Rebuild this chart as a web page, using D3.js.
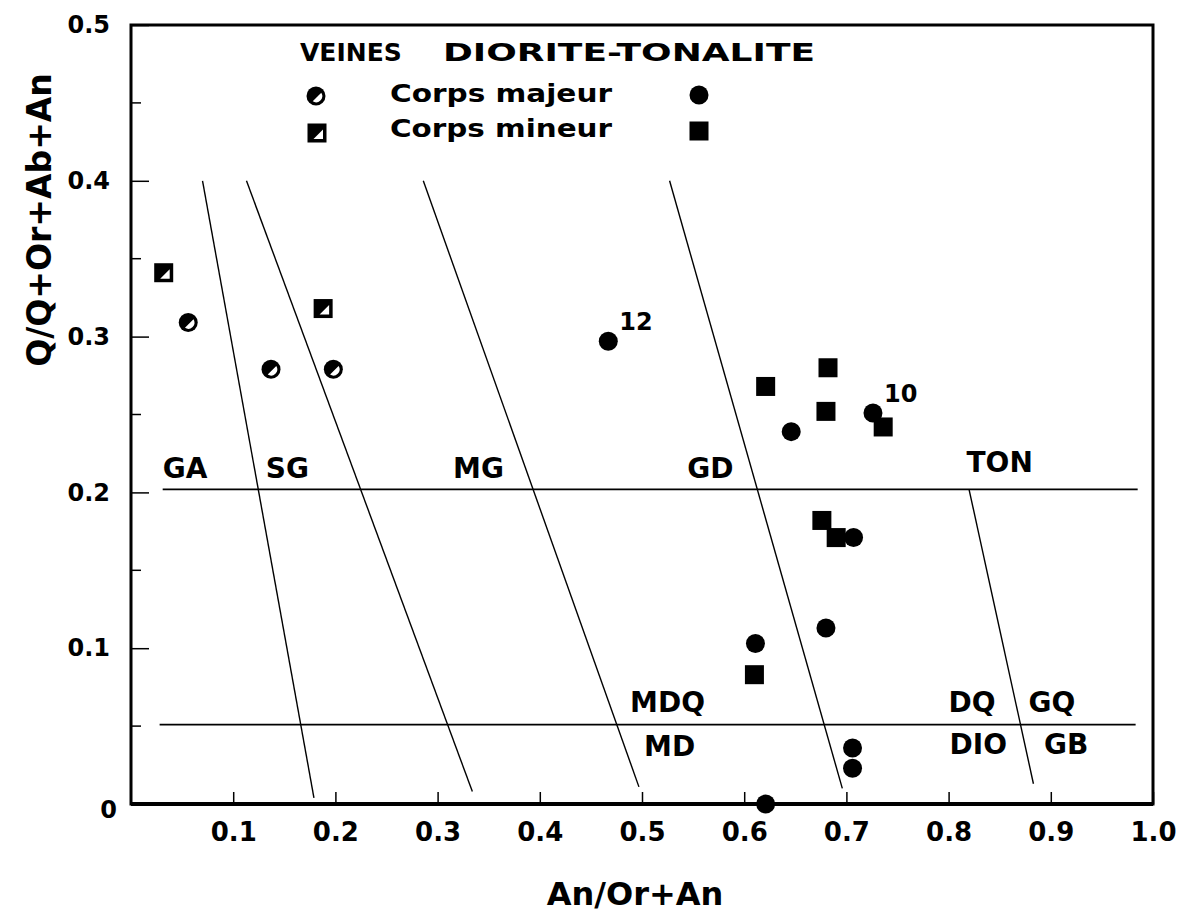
<!DOCTYPE html>
<html>
<head>
<meta charset="utf-8">
<script src="https://cdn.jsdelivr.net/npm/d3@7"></script>
<style>
  html, body { margin: 0; padding: 0; background: #fff; }
  svg { display: block; }
  text { font-family: "DejaVu Sans", "Liberation Sans", sans-serif; font-weight: bold; fill: #000; }
</style>
</head>
<body>
<svg id="chart" width="1178" height="912"></svg>
<script>
// Samples: [An/(Or+An), Q/(Q+Or+Ab+An), sample number]
const veinesMajeur = [[0.056, 0.309], [0.137, 0.279], [0.198, 0.279]];
const veinesMineur = [[0.032, 0.341], [0.188, 0.318]];
const dioriteMajeur = [
  [0.467, 0.297, "12"], [0.646, 0.239], [0.726, 0.251, "10"], [0.707, 0.171],
  [0.680, 0.113], [0.611, 0.103], [0.706, 0.036], [0.706, 0.023], [0.621, 0.000]
];
const dioriteMineur = [
  [0.621, 0.268], [0.682, 0.280], [0.680, 0.252], [0.736, 0.242],
  [0.676, 0.182], [0.690, 0.171], [0.610, 0.083]
];

// Field boundaries of the classification grid
const slantedBoundaries = [
  [[0.070, 0.400], [0.179, 0.004]],
  [[0.113, 0.400], [0.334, 0.008]],
  [[0.286, 0.400], [0.497, 0.011]],
  [[0.527, 0.400], [0.696, 0.010]],
  [[0.820, 0.202], [0.883, 0.013]]
];
const quartzLevels = [[0.031, 0.985, 0.202], [0.028, 0.983, 0.051]];

// Field names with their anchor (centre, baseline) in data units
const fieldNames = [
  ["GA", 0.053, 0.209], ["SG", 0.153, 0.209], ["MG", 0.340, 0.209],
  ["GD", 0.567, 0.209], ["TON", 0.850, 0.213],
  ["MDQ", 0.525, 0.059], ["MD", 0.527, 0.031],
  ["DQ", 0.823, 0.059], ["GQ", 0.901, 0.059],
  ["DIO", 0.829, 0.032], ["GB", 0.915, 0.032]
];

const xTicks = [0.1, 0.2, 0.3, 0.4, 0.5, 0.6, 0.7, 0.8, 0.9, 1.0];
const yTicks = [0, 0.1, 0.2, 0.3, 0.4, 0.5];
const yMinorTicks = [0.05, 0.15, 0.25, 0.35, 0.45];

const svg = d3.select("#chart");
const x = d3.scaleLinear().domain([0, 1]).range([131, 1153]);
const y = d3.scaleLinear().domain([0, 0.5]).range([804, 25]);

// Bottom axis, ticks pointing into the plot
const gx = svg.append("g").attr("transform", `translate(0,${y(0)})`)
  .call(d3.axisBottom(x).tickValues(xTicks).tickSize(-12).tickPadding(19)
    .tickFormat(d3.format(".1f")));
gx.select(".domain").remove();
gx.selectAll("line").attr("stroke", "#000").attr("stroke-width", 1.5);
gx.selectAll("text").style("font-size", "26px").attr("fill", "#000");

// Left axis
const gy = svg.append("g").attr("transform", `translate(${x(0)},0)`)
  .call(d3.axisLeft(y).tickValues(yTicks).tickSize(-18).tickPadding(21)
    .tickFormat(d => d === 0 ? "0" : d3.format(".1f")(d)));
gy.select(".domain").remove();
gy.selectAll("line").attr("stroke", "#000").attr("stroke-width", 1.5);
gy.selectAll("text").style("font-size", "24px").attr("fill", "#000");
gy.selectAll(".tick").filter(d => d === 0).select("text").attr("x", -14).attr("dy", "0.55em");

svg.append("g").selectAll("line").data(yMinorTicks).join("line")
  .attr("x1", x(0)).attr("x2", x(0) + 10)
  .attr("y1", d => y(d)).attr("y2", d => y(d))
  .attr("stroke", "#000").attr("stroke-width", 1.5);

// Frame
svg.append("rect")
  .attr("x", x(0)).attr("y", y(0.5))
  .attr("width", x(1) - x(0)).attr("height", y(0) - y(0.5))
  .attr("fill", "none").attr("stroke", "#000").attr("stroke-width", 3);
svg.append("line")
  .attr("x1", x(0)).attr("x2", x(1)).attr("y1", y(0)).attr("y2", y(0))
  .attr("stroke", "#000").attr("stroke-width", 4);

// Boundaries
svg.append("g").selectAll("line").data(quartzLevels).join("line")
  .attr("x1", d => x(d[0])).attr("x2", d => x(d[1]))
  .attr("y1", d => y(d[2])).attr("y2", d => y(d[2]))
  .attr("stroke", "#000").attr("stroke-width", 1.8);
svg.append("g").selectAll("line").data(slantedBoundaries).join("line")
  .attr("x1", d => x(d[0][0])).attr("y1", d => y(d[0][1]))
  .attr("x2", d => x(d[1][0])).attr("y2", d => y(d[1][1]))
  .attr("stroke", "#000").attr("stroke-width", 1.4);

// Field names
svg.append("g").selectAll("text").data(fieldNames).join("text")
  .attr("x", d => x(d[1])).attr("y", d => y(d[2]))
  .attr("text-anchor", "middle").style("font-size", "28px")
  .text(d => d[0]);

// Marker shapes
const R = 9.5, S = 19;
function halfCircle(g) {
  g.append("circle").attr("r", R).attr("fill", "#000");
  const ri = 6.2, off = 1.4, a0 = Math.PI / 4, h = Math.acos(off / ri);
  const p1 = [ri * Math.cos(a0 - h), ri * Math.sin(a0 - h)];
  const p2 = [ri * Math.cos(a0 + h), ri * Math.sin(a0 + h)];
  g.append("path").attr("fill", "#fff")
    .attr("d", `M${p1[0]},${p1[1]}A${ri},${ri} 0 0 1 ${p2[0]},${p2[1]}Z`);
}
function halfSquare(g) {
  g.append("rect").attr("x", -S / 2).attr("y", -S / 2).attr("width", S).attr("height", S).attr("fill", "#000");
  g.append("path").attr("fill", "#fff").attr("d", "M6,-3.5L6,6L-3.5,6Z");
}
function fullCircle(g) { g.append("circle").attr("r", R).attr("fill", "#000"); }
function fullSquare(g) {
  g.append("rect").attr("x", -S / 2).attr("y", -S / 2).attr("width", S).attr("height", S).attr("fill", "#000");
}

function plotSeries(data, shape) {
  svg.append("g").selectAll("g").data(data).join("g")
    .attr("transform", d => `translate(${x(d[0])},${y(d[1])})`)
    .each(function () { shape(d3.select(this)); });
}
plotSeries(veinesMineur, halfSquare);
plotSeries(veinesMajeur, halfCircle);
plotSeries(dioriteMineur, fullSquare);
plotSeries(dioriteMajeur, fullCircle);

// Sample numbers
svg.append("g").selectAll("text").data(dioriteMajeur.filter(d => d[2])).join("text")
  .attr("x", d => x(d[0]) + 11).attr("y", d => y(d[1]) - 11)
  .style("font-size", "24px").text(d => d[2]);

// Legend: wide lettering, stretched to its set width where given
const legend = svg.append("g");
const legendTexts = [
  ["VEINES", 300, 61, null],
  ["DIORITE-TONALITE", 443, 61, 372],
  ["Corps majeur", 390, 102, 222],
  ["Corps mineur", 390, 137, 222]
];
legend.selectAll("text").data(legendTexts).join("text")
  .attr("x", d => d[1]).attr("y", d => d[2])
  .attr("textLength", d => d[3])
  .attr("lengthAdjust", d => d[3] ? "spacingAndGlyphs" : null)
  .style("font-size", "25px").text(d => d[0]);
[[316, 96, halfCircle], [317, 133, halfSquare], [699, 95, fullCircle], [699, 131, fullSquare]]
  .forEach(([lx, ly, shape]) => shape(legend.append("g").attr("transform", `translate(${lx},${ly})`)));

// Axis titles
svg.append("text").attr("x", 635).attr("y", 905).attr("text-anchor", "middle")
  .style("font-size", "32px").text("An/Or+An");
svg.append("text").attr("transform", "translate(51,220) rotate(-90)").attr("text-anchor", "middle")
  .style("font-size", "33px").text("Q/Q+Or+Ab+An");
</script>
</body>
</html>
